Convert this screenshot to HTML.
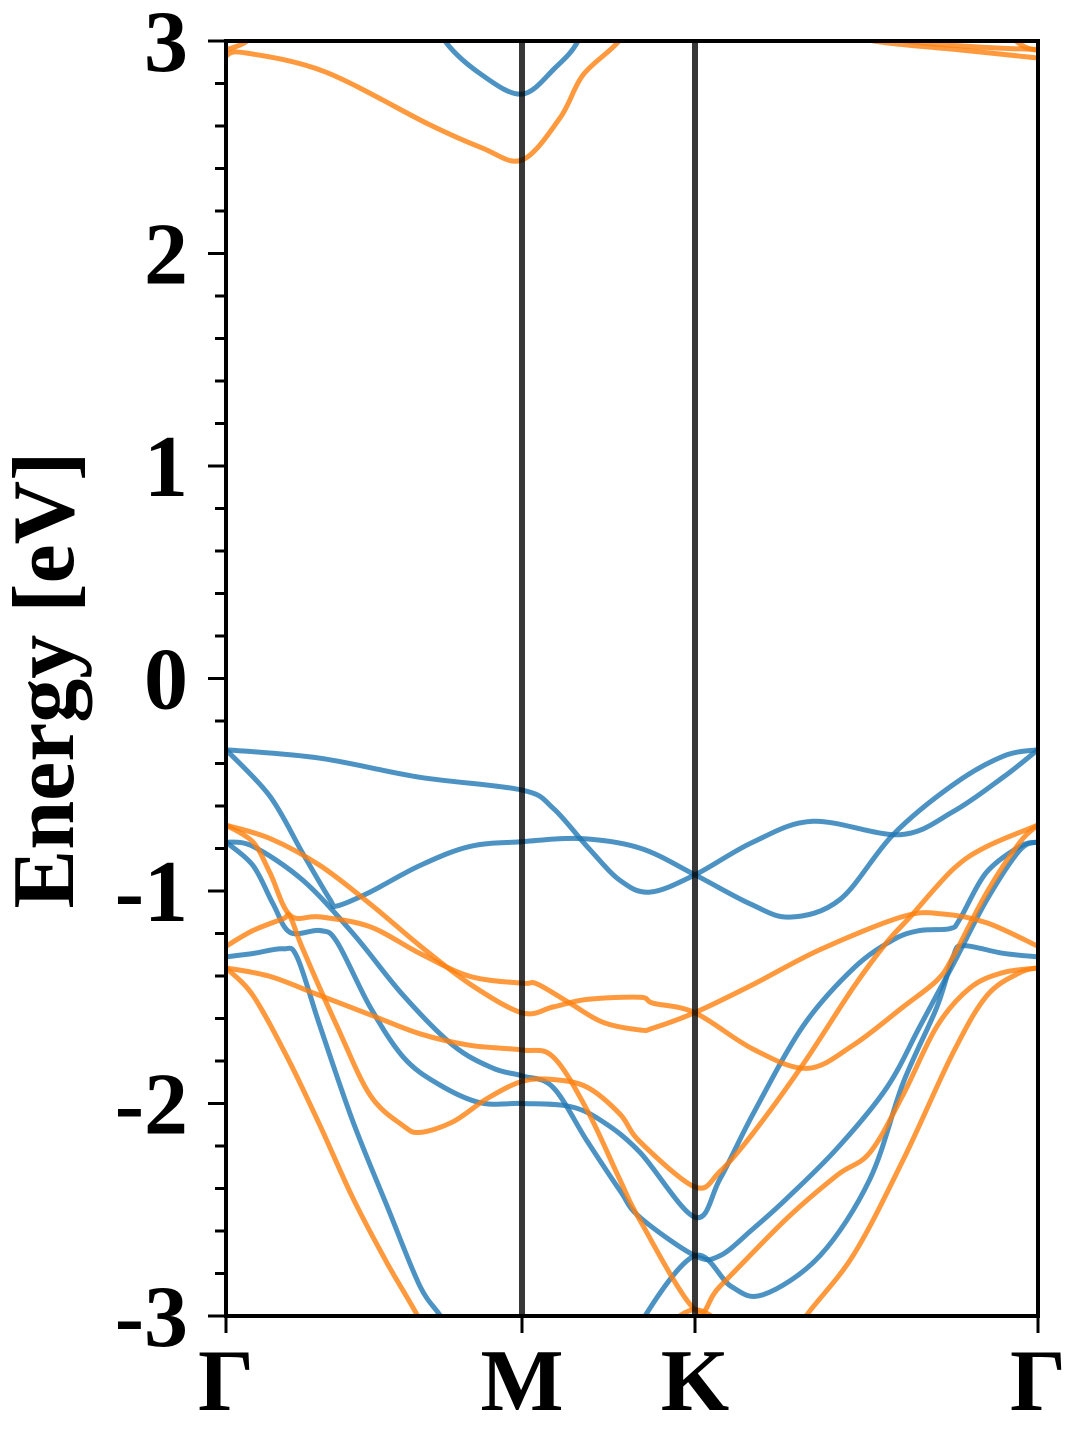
<!DOCTYPE html>
<html><head><meta charset="utf-8"><style>
html,body{margin:0;padding:0;background:#fff;}
svg{display:block;}
text{font-family:"Liberation Serif",serif;font-weight:bold;fill:#000;}
</style></head><body>
<svg id="chart" width="1080" height="1440" viewBox="0 0 1080 1440" xmlns="http://www.w3.org/2000/svg">
<defs><clipPath id="plotclip"><rect x="226" y="41" width="812" height="1275"/></clipPath></defs>
<rect x="0" y="0" width="1080" height="1440" fill="#fff"/>
<g id="bands" clip-path="url(#plotclip)"></g>
<g id="axes"></g>
</svg>
<script>
// k-path high-symmetry positions (path length units) and labels
const kLabels = ["Γ","M","K","Γ"];
const kPoints = [0, 296, 469, 812];
const yTicks = [-3,-2,-1,0,1,2,3];
const yMin = -3, yMax = 3;

// Blue bands: [k, E(eV)] pairs
const blueA = [[0,-0.335],[94,-0.375],[194,-0.465],[296,-0.525],[327,-0.61],[361,-0.79],[394,-0.95],[424,-1.005],[469,-0.924],[527,-0.77],[587,-0.672],[674,-0.735],[727,-0.627],[777,-0.465],[812,-0.335]];
const blueB = [[0,-0.335],[44,-0.555],[77,-0.825],[104,-1.04],[111,-1.07],[144,-1.005],[194,-0.88],[244,-0.79],[296,-0.768],[354,-0.753],[414,-0.798],[469,-0.924],[524,-1.06],[564,-1.123],[614,-1.04],[667,-0.735],[727,-0.5],[777,-0.366],[812,-0.335]];
const blueC = [[0,-0.77],[27,-0.88],[47,-1.06],[64,-1.195],[94,-1.186],[111,-1.24],[144,-1.545],[177,-1.78],[211,-1.905],[254,-1.996],[296,-2.0],[344,-2.014],[377,-2.086],[414,-2.23],[469,-2.535],[494,-2.355],[527,-2.05],[577,-1.636],[627,-1.366],[667,-1.23],[694,-1.186],[724,-1.177],[734,-1.131],[760,-0.915],[794,-0.79],[812,-0.77]];
const blueD = [[0,-0.77],[27,-0.79],[77,-0.95],[127,-1.2],[177,-1.49],[227,-1.726],[267,-1.834],[296,-1.87],[327,-1.924],[361,-2.176],[394,-2.41],[414,-2.536],[469,-2.716],[494,-2.716],[527,-2.59],[561,-2.446],[611,-2.212],[661,-1.924],[694,-1.636],[727,-1.347],[761,-1.04],[794,-0.807],[812,-0.77]];
const blueE = [[0,-1.31],[27,-1.294],[57,-1.272],[71,-1.31],[94,-1.636],[127,-2.086],[161,-2.482],[194,-2.86],[217,-3.02],[230,-3.2]];
const blueF = [[405,-3.2],[419,-3.0],[469,-2.716],[505,-2.86],[537,-2.9],[594,-2.716],[644,-2.355],[677,-1.905],[711,-1.545],[727,-1.31],[737,-1.257],[777,-1.293],[812,-1.31]];
const blueTop = [[200,3.2],[219,3.0],[256,2.84],[296,2.75],[329,2.873],[352,3.0],[365,3.2]];

// Orange bands
const orangeA = [[0,-0.69],[27,-0.77],[44,-0.915],[64,-1.114],[94,-1.122],[144,-1.168],[194,-1.294],[244,-1.402],[296,-1.434],[311,-1.437],[344,-1.528],[377,-1.618],[414,-1.654],[427,-1.645],[469,-1.572],[527,-1.44],[594,-1.276],[677,-1.12],[717,-1.108],[761,-1.15],[812,-1.26]];
const orangeB = [[0,-1.26],[27,-1.186],[57,-1.131],[64,-1.12],[77,-1.275],[111,-1.636],[144,-1.96],[177,-2.104],[194,-2.136],[227,-2.086],[261,-1.977],[296,-1.896],[327,-1.887],[361,-1.923],[394,-2.05],[414,-2.18],[469,-2.393],[494,-2.32],[527,-2.14],[577,-1.816],[627,-1.456],[661,-1.24],[684,-1.123],[727,-0.898],[761,-0.79],[812,-0.69]];
const orangeC = [[0,-0.69],[44,-0.753],[94,-0.88],[144,-1.06],[194,-1.258],[244,-1.438],[296,-1.573],[327,-1.546],[361,-1.51],[414,-1.5],[427,-1.528],[469,-1.573],[527,-1.744],[581,-1.835],[627,-1.726],[677,-1.546],[711,-1.42],[727,-1.31],[761,-1.005],[794,-0.77],[812,-0.69]];
const orangeD = [[0,-1.362],[44,-1.402],[94,-1.492],[144,-1.582],[194,-1.672],[244,-1.726],[296,-1.748],[327,-1.78],[361,-2.03],[394,-2.36],[414,-2.55],[469,-2.97],[494,-2.86],[561,-2.54],[611,-2.338],[644,-2.23],[677,-1.96],[711,-1.636],[744,-1.456],[777,-1.384],[812,-1.362]];
const orangeE = [[0,-1.362],[27,-1.492],[61,-1.78],[94,-2.104],[127,-2.446],[161,-2.75],[194,-3.02],[210,-3.2]];
const orangeF = [[560,-3.2],[577,-3.02],[627,-2.716],[677,-2.267],[727,-1.762],[761,-1.492],[794,-1.384],[812,-1.362]];
const orangeG = [[430,-3.1],[445,-3.03],[469,-2.97],[495,-3.03],[510,-3.1]];
const orangeTop = [[0,2.93],[18,2.945],[99,2.855],[204,2.605],[256,2.497],[296,2.44],[334,2.638],[357,2.84],[393,3.0],[410,3.15]];
const orangeTopL = [[0,2.958],[21,3.0],[35,3.1]];
const orangeTopR1 = [[630,3.05],[648,3.0],[730,2.96],[812,2.92]];
const orangeTopR2 = [[660,3.05],[680,3.0],[760,2.97],[812,2.96]];
const orangeTopR3 = [[780,3.05],[790,3.0],[800,2.97],[812,2.955]];

const blueBands = [blueA,blueB,blueC,blueD,blueE,blueF,blueTop];
const orangeBands = [orangeA,orangeB,orangeC,orangeD,orangeE,orangeF,orangeG,orangeTop,orangeTopL,orangeTopR1,orangeTopR2,orangeTopR3];

const X0 = 226, X1 = 1038, Y0 = 1316, Y1 = 41;
const kMax = kPoints[kPoints.length-1];
function xs(k){ return X0 + (k/kMax)*(X1-X0); }
function ys(e){ return Y0 - (e-yMin)/(yMax-yMin)*(Y0-Y1); }
const NS = "http://www.w3.org/2000/svg";

function pathFor(pts){
  const P = pts.map(p=>[xs(p[0]), ys(p[1])]);
  let d = "M"+P[0][0].toFixed(1)+","+P[0][1].toFixed(1);
  for(let i=0;i<P.length-1;i++){
    const p0=P[Math.max(i-1,0)], p1=P[i], p2=P[i+1], p3=P[Math.min(i+2,P.length-1)];
    const c1=[p1[0]+(p2[0]-p0[0])/6, p1[1]+(p2[1]-p0[1])/6];
    const c2=[p2[0]-(p3[0]-p1[0])/6, p2[1]-(p3[1]-p1[1])/6];
    d += " C"+c1[0].toFixed(1)+","+c1[1].toFixed(1)+" "+c2[0].toFixed(1)+","+c2[1].toFixed(1)+" "+p2[0].toFixed(1)+","+p2[1].toFixed(1);
  }
  return d;
}
const bandsG = document.getElementById("bands");
blueBands.forEach((b,i)=>{
  const p=document.createElementNS(NS,"path");
  p.setAttribute("d",pathFor(b));
  p.setAttribute("fill","none");
  p.setAttribute("stroke","#1f77b4");
  p.setAttribute("stroke-opacity","0.8");
  p.setAttribute("stroke-width","5");
  
  
  bandsG.appendChild(p);
});
orangeBands.forEach((b,i)=>{
  const p=document.createElementNS(NS,"path");
  p.setAttribute("d",pathFor(b));
  p.setAttribute("fill","none");
  p.setAttribute("stroke","#ff7f0e");
  p.setAttribute("stroke-opacity","0.8");
  p.setAttribute("stroke-width","5");
  
  
  bandsG.appendChild(p);
});

const axesG = document.getElementById("axes");
function line(x1,y1,x2,y2,w,c,op){
  const l=document.createElementNS(NS,"line");
  l.setAttribute("x1",x1);l.setAttribute("y1",y1);l.setAttribute("x2",x2);l.setAttribute("y2",y2);
  l.setAttribute("stroke",c);l.setAttribute("stroke-width",w);
  if(op) l.setAttribute("stroke-opacity",op);
  axesG.appendChild(l);
  return l;
}
kPoints.slice(1,-1).forEach(k=>{
  const l=line(xs(k),Y1,xs(k),Y0,6,"#000","0.78");
  
  
});
const fr=document.createElementNS(NS,"rect");
fr.setAttribute("x",X0);fr.setAttribute("y",Y1);fr.setAttribute("width",X1-X0);fr.setAttribute("height",Y0-Y1);
fr.setAttribute("fill","none");fr.setAttribute("stroke","#000");fr.setAttribute("stroke-width","4");


axesG.appendChild(fr);
for(let e=yMin; e<=yMax+1e-9; e+=0.2){
  const major = Math.abs(e-Math.round(e))<1e-6;
  const l=line(major?208:215,ys(e),X0,ys(e),3,"#000");
  
  
}
yTicks.forEach(v=>{
  const t=document.createElementNS(NS,"text");
  t.setAttribute("x",188);t.setAttribute("y",ys(v)+30);
  t.setAttribute("text-anchor","end");t.setAttribute("font-size","88");
  t.textContent=String(v);
  
  
  axesG.appendChild(t);
});
kPoints.forEach((k,i)=>{
  const l=line(xs(k),Y0,xs(k),Y0+17,3,"#000");
  
  
  const t=document.createElementNS(NS,"text");
  t.setAttribute("x",xs(k));t.setAttribute("y",1410);
  t.setAttribute("text-anchor","middle");t.setAttribute("font-size","88");
  t.textContent=kLabels[i];
  
  
  axesG.appendChild(t);
});
const yl=document.createElementNS(NS,"text");
yl.setAttribute("x",0);yl.setAttribute("y",0);
yl.setAttribute("transform","translate(73,680) rotate(-90)");
yl.setAttribute("text-anchor","middle");yl.setAttribute("font-size","88");
yl.textContent="Energy [eV]";


axesG.appendChild(yl);
</script>
</body></html>
